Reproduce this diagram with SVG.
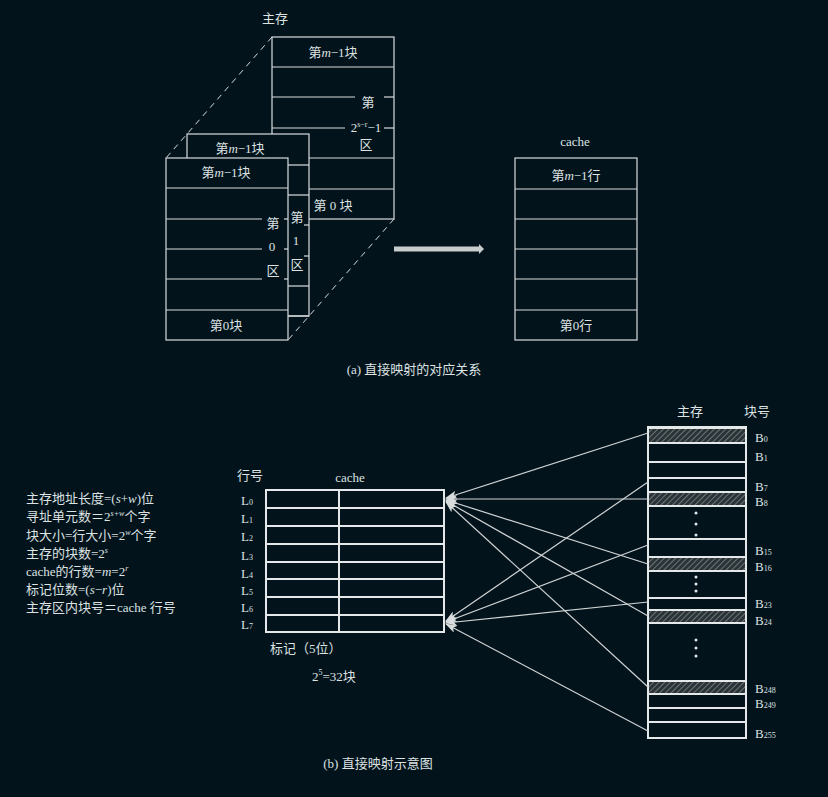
<svg xmlns="http://www.w3.org/2000/svg" width="828" height="797" viewBox="0 0 828 797">
<defs>
<style>
text{font-family:"Liberation Serif","Noto Sans CJK SC",serif;fill:#dde2e2;font-size:13px}
.ln{stroke:#d8dcdc;stroke-width:1.2;fill:none}
.bx{stroke:#d8dcdc;stroke-width:1.2;fill:#03131c}
.dash{stroke:#d8dcdc;stroke-width:1;stroke-dasharray:6,5;fill:none}
.th{stroke:#e4e8e8;stroke-width:2;fill:none}
.hat{fill:url(#h);stroke:#e4e8e8;stroke-width:2}
.ar{stroke:#d0d4d4;stroke-width:1.2;fill:none;marker-end:url(#m)}
.c{text-anchor:middle}
</style>
<pattern id="h" width="4" height="4" patternUnits="userSpaceOnUse" patternTransform="rotate(45)"><rect width="4" height="4" fill="#2a3338"/><line x1="0" y1="0" x2="0" y2="4" stroke="#9aa0a0" stroke-width="1.2"/></pattern>
<marker id="m" markerWidth="12" markerHeight="8" refX="11" refY="4" orient="auto" markerUnits="userSpaceOnUse"><path d="M0,0 L12,4 L0,8 L3,4 Z" fill="#d8dcdc"/></marker>
<marker id="big" markerWidth="6" markerHeight="10" refX="1" refY="5" orient="auto" markerUnits="userSpaceOnUse"><path d="M0,0 L5,5 L0,10 Z" fill="#c8cccc"/></marker>
</defs>
<rect width="828" height="797" fill="#03131c"/>

<g id="main-memory-a">
<text x="262" y="23">主存</text>
<g class="dash"><line x1="272" y1="37" x2="166" y2="158"/><line x1="394" y1="37" x2="309" y2="134"/><line x1="394" y1="219" x2="288" y2="340"/></g>
<rect class="bx" x="272" y="37" width="122" height="182"/>
<g class="ln"><line x1="272" y1="67" x2="394" y2="67"/><line x1="272" y1="97" x2="355" y2="97"/><line x1="384" y1="97" x2="394" y2="97"/><line x1="272" y1="128" x2="345" y2="128"/><line x1="384" y1="128" x2="394" y2="128"/><line x1="272" y1="158" x2="394" y2="158"/><line x1="272" y1="189" x2="394" y2="189"/></g>
<text x="333" y="57" class="c">第<tspan font-style="italic">m</tspan>−1块</text>
<text x="368" y="107" class="c">第</text>
<text x="366" y="132" class="c">2<tspan font-size="8" dy="-5">s−r</tspan><tspan dy="5">−1</tspan></text>
<text x="366" y="149" class="c">区</text>
<text x="333" y="210" class="c">第 0 块</text>
<rect class="bx" x="187" y="134" width="122" height="182"/>
<g class="ln"><line x1="288" y1="165" x2="309" y2="165"/><line x1="288" y1="195" x2="309" y2="195"/><line x1="304" y1="225" x2="309" y2="225"/><line x1="304" y1="256" x2="309" y2="256"/><line x1="288" y1="286" x2="309" y2="286"/><line x1="288" y1="316" x2="309" y2="316"/></g>
<text x="297" y="222" class="c">第</text>
<text x="296" y="245" class="c">1</text>
<text x="297" y="269" class="c">区</text>
<text x="240" y="153" class="c">第<tspan font-style="italic">m</tspan>−1块</text>
<rect class="bx" x="166" y="158" width="122" height="182"/>
<g class="ln"><line x1="166" y1="188" x2="288" y2="188"/><line x1="166" y1="219" x2="262" y2="219"/><line x1="166" y1="249" x2="262" y2="249"/><line x1="166" y1="279" x2="262" y2="279"/><line x1="166" y1="310" x2="288" y2="310"/><line x1="284" y1="219" x2="288" y2="219"/><line x1="284" y1="249" x2="288" y2="249"/><line x1="284" y1="279" x2="288" y2="279"/></g>
<text x="226" y="177" class="c">第<tspan font-style="italic">m</tspan>−1块</text>
<text x="273" y="228" class="c">第</text>
<text x="272" y="251" class="c">0</text>
<text x="273" y="275" class="c">区</text>
<text x="226" y="330" class="c">第0块</text>
</g>

<g id="arrow-a"><line x1="394" y1="249" x2="480" y2="249" stroke="#c8cccc" stroke-width="5" marker-end="url(#big)"/></g>

<g id="cache-a">
<text x="575" y="146" class="c">cache</text>
<rect class="bx" x="515" y="158" width="122" height="182"/>
<g class="ln"><line x1="515" y1="189" x2="637" y2="189"/><line x1="515" y1="219" x2="637" y2="219"/><line x1="515" y1="249" x2="637" y2="249"/><line x1="515" y1="279" x2="637" y2="279"/><line x1="515" y1="310" x2="637" y2="310"/></g>
<text x="576" y="180" class="c">第<tspan font-style="italic">m</tspan>−1行</text>
<text x="576" y="330" class="c">第0行</text>
</g>
<text x="414" y="374" class="c">(a) 直接映射的对应关系</text>

<g id="formulas">
<text x="26" y="503">主存地址长度=(<tspan font-style="italic">s</tspan>+<tspan font-style="italic">w</tspan>)位</text>
<text x="26" y="521">寻址单元数＝2<tspan font-size="8" dy="-5" font-style="italic">s+w</tspan><tspan dy="5">个字</tspan></text>
<text x="26" y="540">块大小=行大小=2<tspan font-size="8" dy="-5" font-style="italic">w</tspan><tspan dy="5">个字</tspan></text>
<text x="26" y="558">主存的块数=2<tspan font-size="8" dy="-5" font-style="italic">s</tspan></text>
<text x="26" y="576">cache的行数=<tspan font-style="italic">m</tspan>=2<tspan font-size="8" dy="-5" font-style="italic">r</tspan></text>
<text x="26" y="594">标记位数=(<tspan font-style="italic">s</tspan>−<tspan font-style="italic">r</tspan>)位</text>
<text x="26" y="612">主存区内块号＝cache 行号</text>
</g>

<g id="cache-b">
<text x="237" y="480">行号</text>
<text x="350" y="482" class="c">cache</text>
<rect class="th" x="266" y="490" width="178" height="142"/>
<g class="th"><line x1="339" y1="490" x2="339" y2="632"/><line x1="266" y1="508" x2="444" y2="508"/><line x1="266" y1="526" x2="444" y2="526"/><line x1="266" y1="544" x2="444" y2="544"/><line x1="266" y1="562" x2="444" y2="562"/><line x1="266" y1="579" x2="444" y2="579"/><line x1="266" y1="597" x2="444" y2="597"/><line x1="266" y1="615" x2="444" y2="615"/></g>
<g font-size="14">
<text x="241" y="505">L<tspan font-size="8">0</tspan></text>
<text x="241" y="523">L<tspan font-size="8">1</tspan></text>
<text x="241" y="541">L<tspan font-size="8">2</tspan></text>
<text x="241" y="560">L<tspan font-size="8">3</tspan></text>
<text x="241" y="578">L<tspan font-size="8">4</tspan></text>
<text x="241" y="595">L<tspan font-size="8">5</tspan></text>
<text x="241" y="612">L<tspan font-size="8">6</tspan></text>
<text x="241" y="629">L<tspan font-size="8">7</tspan></text>
</g>
<text x="270" y="653">标记（5位）</text>
<text x="312" y="681">2<tspan font-size="8" dy="-6">5</tspan><tspan dy="6">=32块</tspan></text>
</g>

<g id="main-memory-b">
<text x="690" y="416" class="c">主存</text>
<text x="757" y="416" class="c">块号</text>
<rect class="th" x="648" y="427" width="98" height="311"/>
<rect class="hat" x="648" y="428" width="98" height="15"/>
<rect class="hat" x="648" y="492" width="98" height="14"/>
<rect class="hat" x="648" y="557" width="98" height="14"/>
<rect class="hat" x="648" y="610" width="98" height="13"/>
<rect class="hat" x="648" y="681" width="98" height="13"/>
<g class="th"><line x1="648" y1="462" x2="746" y2="462"/><line x1="648" y1="478" x2="746" y2="478"/><line x1="648" y1="539" x2="746" y2="539"/><line x1="648" y1="598" x2="746" y2="598"/><line x1="648" y1="708" x2="746" y2="708"/><line x1="648" y1="722" x2="746" y2="722"/></g>
<g fill="#e4e8e8"><circle cx="696" cy="513" r="1.5"/><circle cx="696" cy="524" r="1.5"/><circle cx="696" cy="535" r="1.5"/><circle cx="696" cy="577" r="1.5"/><circle cx="696" cy="584" r="1.5"/><circle cx="696" cy="591" r="1.5"/><circle cx="696" cy="640" r="1.5"/><circle cx="696" cy="648" r="1.5"/><circle cx="696" cy="656" r="1.5"/></g>
<g font-size="14">
<text x="755" y="442">B<tspan font-size="8">0</tspan></text>
<text x="755" y="461">B<tspan font-size="8">1</tspan></text>
<text x="755" y="491">B<tspan font-size="8">7</tspan></text>
<text x="755" y="506">B<tspan font-size="8">8</tspan></text>
<text x="755" y="555">B<tspan font-size="8">15</tspan></text>
<text x="755" y="571">B<tspan font-size="8">16</tspan></text>
<text x="755" y="608">B<tspan font-size="8">23</tspan></text>
<text x="755" y="625">B<tspan font-size="8">24</tspan></text>
<text x="755" y="693">B<tspan font-size="8">248</tspan></text>
<text x="755" y="708">B<tspan font-size="8">249</tspan></text>
<text x="755" y="738">B<tspan font-size="8">255</tspan></text>
</g>
</g>

<g id="connectors">
<line class="ar" x1="648" y1="433" x2="446" y2="498"/>
<line class="ar" x1="648" y1="499" x2="446" y2="499"/>
<line class="ar" x1="648" y1="564" x2="446" y2="500"/>
<line class="ar" x1="648" y1="616" x2="446" y2="501"/>
<line class="ar" x1="648" y1="687" x2="446" y2="502"/>
<line class="ar" x1="648" y1="482" x2="446" y2="621"/>
<line class="ar" x1="648" y1="545" x2="446" y2="622"/>
<line class="ar" x1="648" y1="602" x2="446" y2="623"/>
<line class="ar" x1="648" y1="731" x2="446" y2="624"/>
</g>
<text x="378" y="768" class="c">(b) 直接映射示意图</text>
</svg>
